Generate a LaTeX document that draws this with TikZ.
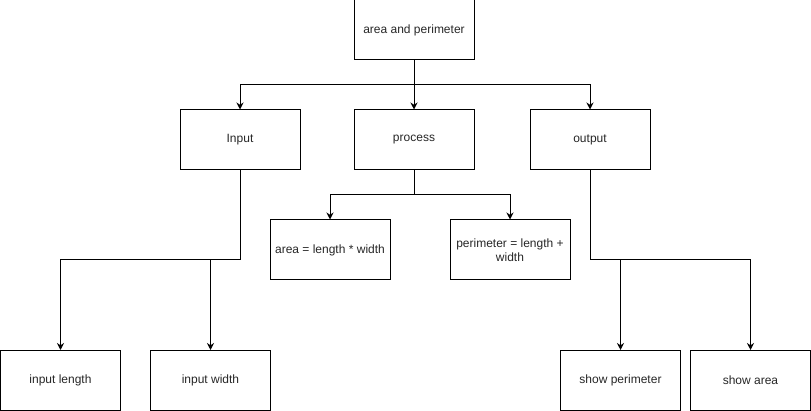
\documentclass[tikz,border=0pt]{standalone}
\usepackage{fontspec}
\setmainfont{Liberation Sans}
\usetikzlibrary{arrows.meta}
\begin{document}
\begin{tikzpicture}[x=1pt,y=-1pt,
  box/.style={draw=black,line width=1pt,minimum width=120pt,minimum height=60pt,inner sep=2pt,align=center,font=\fontsize{12}{14}\selectfont,text=black!85},
  arr/.style={draw=black,line width=1pt,-{Stealth[length=7pt,width=7pt]}}]
\useasboundingbox (0,0) rectangle (811,411);
\node[box] (ap) at (414,30) {area and perimeter};
\node[box] (in) at (240,140) {Input};
\node[box] (pr) at (414,140) {process};
\node[box] (ou) at (590,140) {output};
\node[box] (ar) at (330,250) {area = length * width};
\node[box] (pe) at (510,250) {perimeter = length +\\ width};
\node[box] (il) at (60.5,380.5) {input length};
\node[box] (iw) at (210.5,380.5) {input width};
\node[box] (sp) at (620.5,380.5) {show perimeter};
\node[box] (sa) at (750.5,380.5) {show area};
\coordinate (j0) at (414,85);
\coordinate (j1) at (414,195);
\coordinate (j2) at (240,260);
\coordinate (j3) at (590,260);
\draw[arr] (ap.south) -- (j0) -| (in.north);
\draw[arr] (j0) -| (ou.north);
\draw[arr] (j0) -- (pr.north);
\draw[arr] (pr.south) -- (j1) -| (ar.north);
\draw[arr] (j1) -| (pe.north);
\draw[arr] (in.south) -- (j2) -| (il.north);
\draw[arr] (j2) -| (iw.north);
\draw[arr] (ou.south) -- (j3) -| (sa.north);
\draw[arr] (j3) -| (sp.north);
\end{tikzpicture}
\end{document}
